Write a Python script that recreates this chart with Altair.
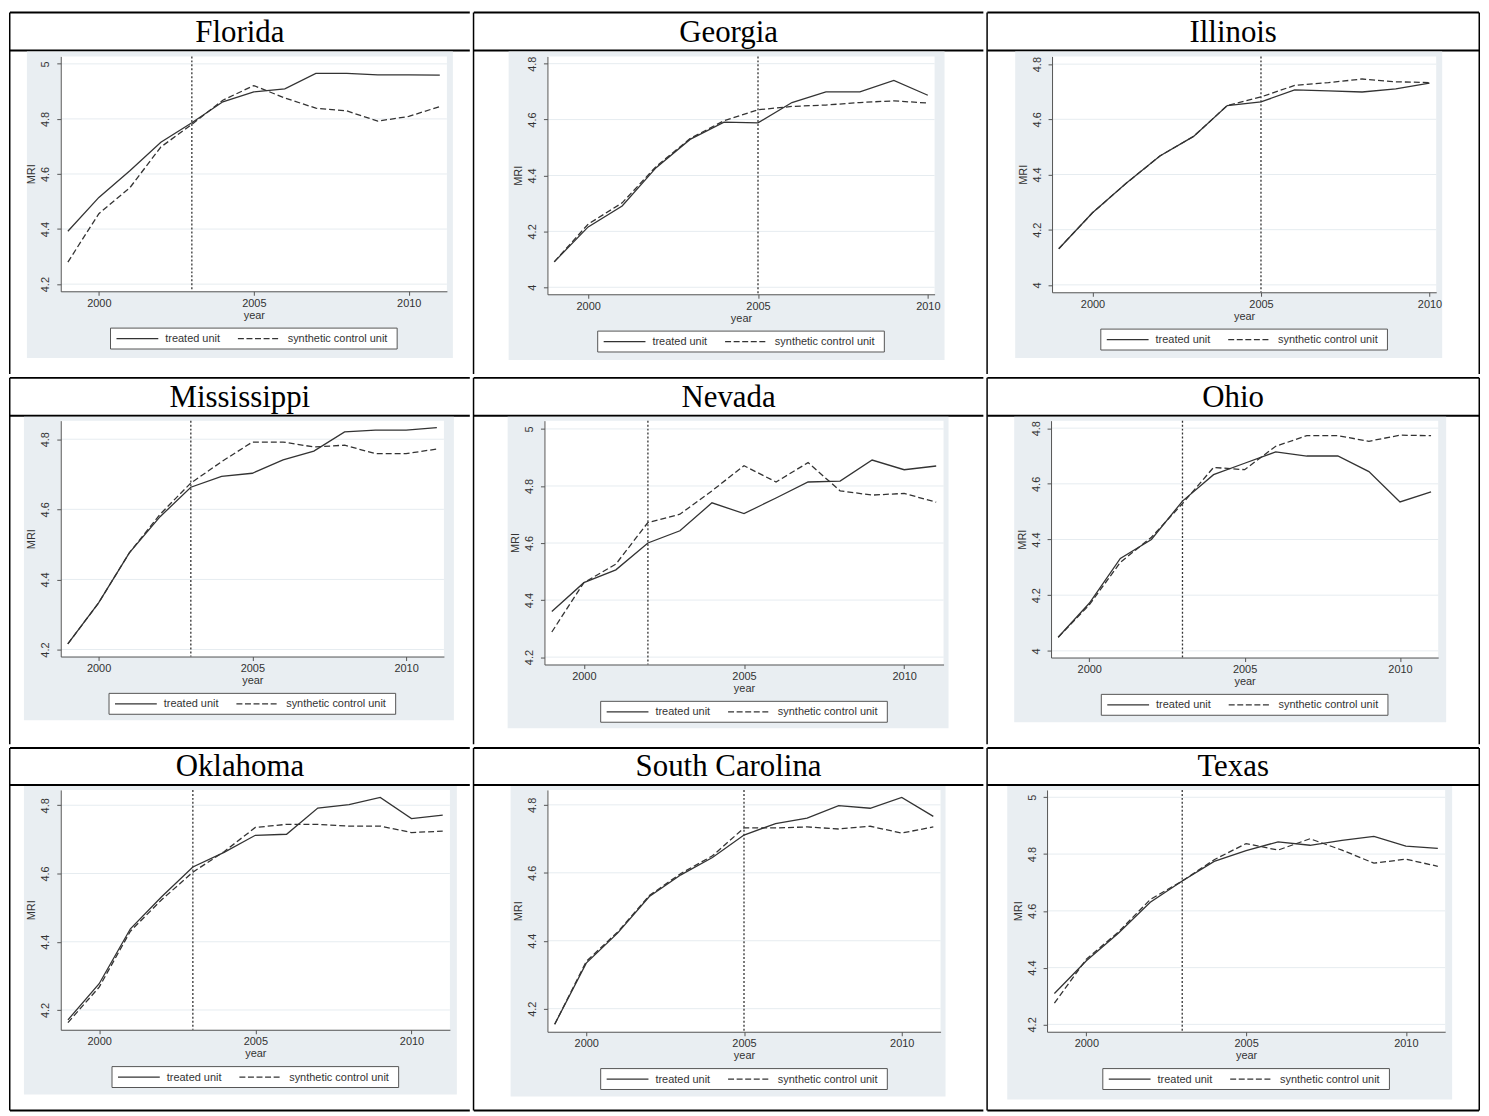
import altair as alt
import pandas as pd

# ---------------- data ----------------
YEARS_11 = [1999, 2000, 2001, 2002, 2003, 2004, 2005, 2006, 2007, 2008, 2009, 2010, 2011]
YEARS_10 = [1999, 2000, 2001, 2002, 2003, 2004, 2005, 2006, 2007, 2008, 2009, 2010]
X_TICKS = [2000, 2005, 2010]
SERIES = ["treated unit", "synthetic control unit"]

FL_TREATED = [4.392, 4.515, 4.612, 4.715, 4.786, 4.862, 4.898, 4.909, 4.965, 4.965, 4.960, 4.960, 4.959]
FL_SYNTH = [4.280, 4.456, 4.550, 4.698, 4.780, 4.868, 4.921, 4.876, 4.839, 4.829, 4.792, 4.809, 4.845]
GA_TREATED = [4.091, 4.216, 4.291, 4.428, 4.529, 4.591, 4.588, 4.661, 4.699, 4.699, 4.740, 4.687]
GA_SYNTH = [4.091, 4.226, 4.302, 4.432, 4.532, 4.596, 4.635, 4.647, 4.652, 4.661, 4.667, 4.659]
IL_TREATED = [4.131, 4.261, 4.368, 4.467, 4.538, 4.650, 4.663, 4.707, 4.703, 4.699, 4.710, 4.731]
IL_SYNTH = [4.131, 4.261, 4.368, 4.467, 4.538, 4.650, 4.681, 4.723, 4.733, 4.746, 4.736, 4.733]
MS_TREATED = [4.216, 4.333, 4.476, 4.579, 4.663, 4.694, 4.703, 4.741, 4.766, 4.821, 4.826, 4.826, 4.833]
MS_SYNTH = [4.216, 4.333, 4.476, 4.586, 4.675, 4.736, 4.792, 4.792, 4.778, 4.783, 4.759, 4.759, 4.772]
NV_TREATED = [4.360, 4.461, 4.506, 4.600, 4.643, 4.741, 4.703, 4.758, 4.814, 4.817, 4.891, 4.857, 4.870]
NV_SYNTH = [4.288, 4.461, 4.526, 4.672, 4.701, 4.783, 4.871, 4.814, 4.882, 4.783, 4.768, 4.774, 4.743]
OH_TREATED = [4.049, 4.171, 4.332, 4.400, 4.538, 4.633, 4.674, 4.715, 4.700, 4.700, 4.644, 4.535, 4.571]
OH_SYNTH = [4.049, 4.165, 4.318, 4.408, 4.529, 4.659, 4.651, 4.735, 4.773, 4.773, 4.753, 4.775, 4.773]
OK_TREATED = [4.171, 4.277, 4.438, 4.532, 4.619, 4.662, 4.712, 4.715, 4.792, 4.802, 4.823, 4.761, 4.771]
OK_SYNTH = [4.163, 4.267, 4.431, 4.523, 4.604, 4.664, 4.735, 4.744, 4.744, 4.739, 4.739, 4.720, 4.724]
SC_TREATED = [4.154, 4.334, 4.423, 4.530, 4.594, 4.645, 4.711, 4.745, 4.761, 4.798, 4.790, 4.822, 4.766]
SC_SYNTH = [4.154, 4.339, 4.426, 4.533, 4.598, 4.650, 4.732, 4.732, 4.735, 4.729, 4.737, 4.717, 4.735]
TX_TREATED = [4.309, 4.424, 4.521, 4.630, 4.705, 4.774, 4.812, 4.843, 4.831, 4.848, 4.862, 4.828, 4.820]
TX_SYNTH = [4.275, 4.430, 4.525, 4.640, 4.705, 4.780, 4.837, 4.814, 4.854, 4.814, 4.768, 4.782, 4.757]

YT_42_50 = [4.2, 4.4, 4.6, 4.8, 5.0]
YT_40_48 = [4.0, 4.2, 4.4, 4.6, 4.8]
YT_42_48 = [4.2, 4.4, 4.6, 4.8]

XDOM_11 = [1998.77, 2011.23]
XDOM_10 = [1998.80, 2010.20]

PANELS = [
    # state, years, treated, synthetic, treatment year, y domain, y ticks, x domain
    ("Florida", YEARS_11, FL_TREATED, FL_SYNTH, 2003, [4.174, 5.027], YT_42_50, XDOM_11),
    ("Georgia", YEARS_10, GA_TREATED, GA_SYNTH, 2005, [3.975, 4.826], YT_40_48, XDOM_10),
    ("Illinois", YEARS_10, IL_TREATED, IL_SYNTH, 2005, [3.973, 4.828], YT_40_48, XDOM_10),
    ("Mississippi", YEARS_11, MS_TREATED, MS_SYNTH, 2003, [4.180, 4.853], YT_42_48, XDOM_11),
    ("Nevada", YEARS_11, NV_TREATED, NV_SYNTH, 2002, [4.174, 5.029], YT_42_50, XDOM_11),
    ("Ohio", YEARS_11, OH_TREATED, OH_SYNTH, 2003, [3.976, 4.827], YT_40_48, XDOM_11),
    ("Oklahoma", YEARS_11, OK_TREATED, OK_SYNTH, 2003, [4.142, 4.845], YT_42_48, XDOM_11),
    ("South Carolina", YEARS_11, SC_TREATED, SC_SYNTH, 2005, [4.132, 4.844], YT_42_48, XDOM_11),
    ("Texas", YEARS_11, TX_TREATED, TX_SYNTH, 2003, [4.174, 5.026], YT_42_50, XDOM_11),
]

# ---------------- layout (pixels) ----------------
# the plot origin of every panel in a row sits at the same height, so py is per row
GEOM = [
    dict(cw=464, ch=365, th=39, px=52, py=45, W=388, H=236, gx1=18, gxr=6, gyb=67),
    dict(cw=514, ch=365, th=39, px=75, py=45, W=389, H=239, gx1=36, gxr=10, gyb=66),
    dict(cw=496, ch=365, th=39, px=66, py=45, W=386, H=237, gx1=29, gxr=6, gyb=66),
    dict(cw=464, ch=370, th=39, px=52, py=44, W=385, H=237, gx1=15, gxr=10, gyb=64),
    dict(cw=514, ch=370, th=39, px=72, py=44, W=401, H=245, gx1=35, gxr=5, gyb=64),
    dict(cw=496, ch=370, th=39, px=65, py=44, W=389, H=238, gx1=28, gxr=8, gyb=65),
    dict(cw=464, ch=366, th=38, px=52, py=43, W=391, H=241, gx1=15, gxr=7, gyb=65),
    dict(cw=514, ch=366, th=38, px=75, py=43, W=395, H=243, gx1=38, gxr=5, gyb=65),
    dict(cw=496, ch=366, th=38, px=61, py=43, W=400, H=243, gx1=21, gxr=7, gyb=68),
]

LINE = "#333333"
GRID = "#e6ecf0"
PANEL_BG = "#e9eef2"
AXIS = "#555555"
TXT = "#333333"
SANS = "Liberation Sans"
SERIF = "Liberation Serif"


def one():
    return pd.DataFrame({"k": [0]})


def hrule(x1, x2, y, w, color="black", dash=None):
    kw = dict(color=color, strokeWidth=w)
    if dash is not None:
        kw["strokeDash"] = dash
    return alt.Chart(one()).mark_rule(**kw).encode(
        x=alt.value(x1), x2=alt.value(x2), y=alt.value(y))


def vrule(x, y1, y2, w, color="black"):
    return alt.Chart(one()).mark_rule(color=color, strokeWidth=w).encode(
        x=alt.value(x), y=alt.value(y1), y2=alt.value(y2))


def box(x1, x2, y1, y2, fill, stroke=None):
    kw = dict(fill=fill)
    if stroke is not None:
        kw.update(stroke=stroke, strokeWidth=1)
    return alt.Chart(one()).mark_rect(**kw).encode(
        x=alt.value(x1), x2=alt.value(x2), y=alt.value(y1), y2=alt.value(y2))


def label(x, y, text, size, font, align="left", baseline="middle"):
    return alt.Chart(one()).mark_text(
        font=font, fontSize=size, align=align, baseline=baseline,
        color=TXT if font == SANS else "black"
    ).encode(x=alt.value(x), y=alt.value(y), text=alt.value(text))


def panel(spec, g, last_col, last_row):
    state, years, treated, synth, t0, ydom, yticks, xdom = spec
    px, py, W, H = g["px"], g["py"], g["W"], g["H"]
    cw, ch, th = g["cw"], g["ch"], g["th"]

    xenc = alt.X("year:Q", scale=alt.Scale(domain=xdom, nice=False, zero=False),
                 axis=alt.Axis(values=X_TICKS, format="d", title="year", grid=False, zindex=1,
                               labelFlush=False, labelOverlap=False, tickSize=4,
                               labelPadding=2, titlePadding=1))
    yenc = alt.Y("value:Q", scale=alt.Scale(domain=ydom, nice=False, zero=False),
                 axis=alt.Axis(values=yticks, format="~g", title="MRI", grid=False, zindex=1,
                               labelAngle=270, labelAlign="center", labelBaseline="bottom",
                               labelFlush=False, labelOverlap=False, tickSize=4,
                               labelPadding=6, titlePadding=3))

    layers = []
    # table cell
    layers.append(box(-px, cw - px, -py, ch - py, "white"))
    layers.append(hrule(-px + 1, cw - px - 1, -py + 1, 2))
    layers.append(hrule(-px + 1, cw - px - 1, th - py, 2))
    layers.append(vrule(-px + 0.75, -py + 1, ch - py - 1, 1.5))
    if last_col:
        layers.append(vrule(cw - px - 0.75, -py + 1, ch - py - 1, 1.5))
    if last_row:
        layers.append(hrule(-px + 1, cw - px - 1, ch - py - 1, 2))
    layers.append(label(cw / 2 - px, th - 8.5 - py, state, 31, SERIF,
                        align="center", baseline="alphabetic"))
    # Stata graph region + plot region
    layers.append(box(g["gx1"] - px, W + g["gxr"], th + 1 - py, H + g["gyb"], PANEL_BG))
    layers.append(box(0, W, 0, H, "white"))
    # grid lines at the y ticks
    layers.append(alt.Chart(pd.DataFrame({"value": yticks})).mark_rule(
        color=GRID, strokeWidth=1).encode(y=yenc))
    # data lines
    df_t = pd.DataFrame({"year": years, "value": treated})
    df_s = pd.DataFrame({"year": years, "value": synth})
    layers.append(alt.Chart(df_t).mark_line(color=LINE, strokeWidth=1.3).encode(x=xenc, y=yenc))
    layers.append(alt.Chart(df_s).mark_line(color=LINE, strokeWidth=1.3,
                                            strokeDash=[6, 3]).encode(x=xenc, y=yenc))
    # treatment year
    layers.append(alt.Chart(pd.DataFrame({"year": [t0]})).mark_rule(
        color=LINE, strokeWidth=1.3, strokeDash=[2, 2]).encode(x=xenc))
    # legend
    lx = W / 2 - 144
    ly = H + 37
    layers.append(box(lx, lx + 288, ly, ly + 21, "white", stroke=AXIS))
    layers.append(hrule(lx + 6, lx + 48, ly + 10.5, 1.3, color=LINE))
    layers.append(label(lx + 55, ly + 11, SERIES[0], 11, SANS))
    layers.append(hrule(lx + 128, lx + 171, ly + 10.5, 1.3, color=LINE, dash=[6, 2.6]))
    layers.append(label(lx + 178, ly + 11, SERIES[1], 11, SANS))

    return alt.layer(*layers).properties(width=W, height=H)


rows = []
for r in range(3):
    cells = []
    for c in range(3):
        i = r * 3 + c
        cells.append(panel(PANELS[i], GEOM[i], c == 2, r == 2))
    rows.append(alt.hconcat(*cells, spacing=0))

chart = alt.vconcat(*rows, spacing=0).properties(
    padding=0, background="white"
).configure_view(
    stroke="transparent"
).configure_axis(
    labelFont=SANS, titleFont=SANS, labelFontSize=11, titleFontSize=11,
    titleFontWeight="normal", labelColor=TXT, titleColor=TXT,
    domainColor=AXIS, tickColor=AXIS, domainWidth=1, tickWidth=1
)

chart.save("out.html", embed_options={"renderer": "svg", "actions": False})
